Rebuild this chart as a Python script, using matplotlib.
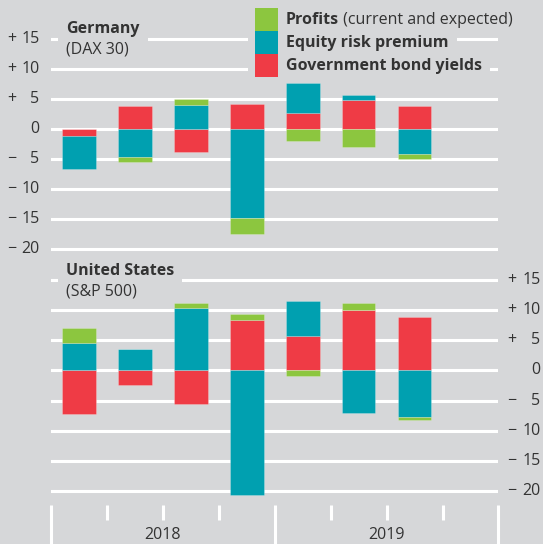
import matplotlib
matplotlib.use("Agg")
import matplotlib.pyplot as plt
from matplotlib.patches import Rectangle
from matplotlib.transforms import blended_transform_factory
import numpy as np

# ---------------- data ----------------
quarters = ["Q1 2018", "Q2 2018", "Q3 2018", "Q4 2018", "Q1 2019", "Q2 2019", "Q3 2019"]
years = ["2018", "2019"]

de_profits = [0.0, -0.9, 1.0, -2.7, -2.0, -3.0, -0.9]
de_erp     = [-5.6, -4.6, 4.0, -14.8, 5.0, 0.8, -4.1]
de_bonds   = [-1.1, 3.8, -3.9, 4.2, 2.6, 4.8, 3.9]

us_profits = [2.5, 0.0, 0.7, 1.0, -1.0, 1.2, -0.6]
us_erp     = [4.5, 3.5, 10.4, -20.7, 5.8, -7.0, -7.7]
us_bonds   = [-7.2, -2.4, -5.5, 8.4, 5.7, 10.0, 8.9]

yticks = [15, 10, 5, 0, -5, -10, -15, -20]
legend_bold = ["Profits", "Equity risk premium", "Government bond yields"]
legend_reg = [" (current and expected)", "", ""]

# ---------------- style ----------------
BG = "#d6d7d9"
GREEN = "#8cc63f"
TEAL = "#00a0b0"
RED = "#ef3b45"
TXT = "#333333"
FONT = "Open Sans"

W, H = 543, 544
fig = plt.figure(figsize=(W / 100, H / 100), dpi=100, facecolor=BG)
plt.rcParams["font.family"] = [FONT, "DejaVu Sans"]


def fx(x):
    return x / W


def fy(y):
    return 1 - y / H


def make_ax(top_px, bot_px, ylim):
    ax = fig.add_axes([fx(51), fy(bot_px), (498.5 - 51) / W, (bot_px - top_px) / H])
    ax.set_xlim(0, 8)
    ax.set_ylim(*ylim)
    ax.set_facecolor("none")
    for s in ax.spines.values():
        s.set_visible(False)
    ax.set_xticks([])
    ax.set_yticks([])
    for t in yticks:
        ax.axhline(t, color="white", lw=2.2, zorder=1)
    return ax


ax1 = make_ax(14, 254, ((129 - 254) / 6.0, (129 - 14) / 6.0))
ax2 = make_ax(258, 500, ((370.4 - 500) / 6.03, (370.4 - 258) / 6.03))


def draw_bars(ax, profits, erp, bonds):
    x = np.arange(len(profits)) + 0.5
    pos = np.zeros(len(profits))
    neg = np.zeros(len(profits))
    for vals, col in ((bonds, RED), (erp, TEAL), (profits, GREEN)):
        v = np.array(vals)
        bottoms = np.where(v >= 0, pos, neg)
        ax.bar(x, v, bottom=bottoms, width=0.6, color=col, zorder=3,
               edgecolor=(1, 1, 1, 0.25), linewidth=0.6)
        pos = pos + np.where(v >= 0, v, 0)
        neg = neg + np.where(v < 0, v, 0)


draw_bars(ax1, de_profits, de_erp, de_bonds)
draw_bars(ax2, us_profits, us_erp, us_bonds)


def fmt_sign(t):
    return "+" if t > 0 else ("\u2212" if t < 0 else "")


# y tick labels
tr1 = blended_transform_factory(fig.transFigure, ax1.transData)
for t in yticks:
    fig.text(fx(7), t, fmt_sign(t), transform=tr1, ha="left", va="center",
             fontsize=11.5, color=TXT)
    fig.text(fx(39.5), t, str(abs(t)), transform=tr1, ha="right", va="center",
             fontsize=11.5, color=TXT)
tr2 = blended_transform_factory(fig.transFigure, ax2.transData)
for t in yticks:
    fig.text(fx(507), t, fmt_sign(t), transform=tr2, ha="left", va="center",
             fontsize=11.5, color=TXT)
    fig.text(fx(540.5), t, str(abs(t)), transform=tr2, ha="right", va="center",
             fontsize=11.5, color=TXT)

# x axis ticks below bottom panel
trx = blended_transform_factory(ax2.transData, fig.transFigure)
for i in range(9):
    long = i in (0, 4, 8)
    y0 = fy(505)
    y1 = fy(546) if long else fy(520)
    ax2.plot([i, i], [y0, y1], transform=trx, color="white", lw=2.2,
             clip_on=False, solid_capstyle="butt")
for j, yr in enumerate(years):
    ax2.text(2 + 4 * j, fy(535), yr, transform=trx, ha="center", va="center",
             fontsize=11.5, color=TXT, clip_on=False)

fig.canvas.draw()
renderer = fig.canvas.get_renderer()


def right_px(t):
    bb = t.get_window_extent(renderer)
    return bb.x1


def cover(x0, x1, y0, y1):
    fig.add_artist(Rectangle((fx(x0), fy(y1)), (x1 - x0) / W, (y1 - y0) / H,
                             transform=fig.transFigure, facecolor=BG,
                             edgecolor="none", zorder=1))


# panel titles
for title, sub, ytitle, ysub, ytop, ybot in (
    ("Germany", "(DAX 30)", 29, 50, 16, 60),
    ("United States", "(S&P 500)", 271, 291, 259, 302),
):
    t1 = fig.text(fx(66), fy(ytitle), title, ha="left", va="center",
                  fontsize=11.5, fontweight="bold", color=TXT, zorder=3)
    t2 = fig.text(fx(66), fy(ysub), sub, ha="left", va="center",
                  fontsize=11.5, color=TXT, zorder=3)
    fig.canvas.draw()
    r = max(right_px(t1), right_px(t2))
    cover(58, r + 8, ytop, ybot)

# legend
rows_y = [20, 43, 66]
for i, (col, yc) in enumerate(zip([GREEN, TEAL, RED], rows_y)):
    fig.add_artist(Rectangle((fx(255), fy(8 + 23 * (i + 1))), 23 / W, 23 / H,
                             transform=fig.transFigure, facecolor=col,
                             edgecolor="none", zorder=2))
    tb = fig.text(fx(286), fy(yc), legend_bold[i], ha="left", va="center",
                  fontsize=11.5, fontweight="bold", color=TXT, zorder=3)
    fig.canvas.draw()
    r = right_px(tb)
    if legend_reg[i]:
        tr = fig.text(r / W, fy(yc), legend_reg[i], ha="left", va="center",
                      fontsize=11.5, color=TXT, zorder=3)
        fig.canvas.draw()
        r = right_px(tr)
    cover(248, r + 8, 8 + 23 * i, 8 + 23 * (i + 1))

fig.savefig("out.png", dpi=100, facecolor=BG)
